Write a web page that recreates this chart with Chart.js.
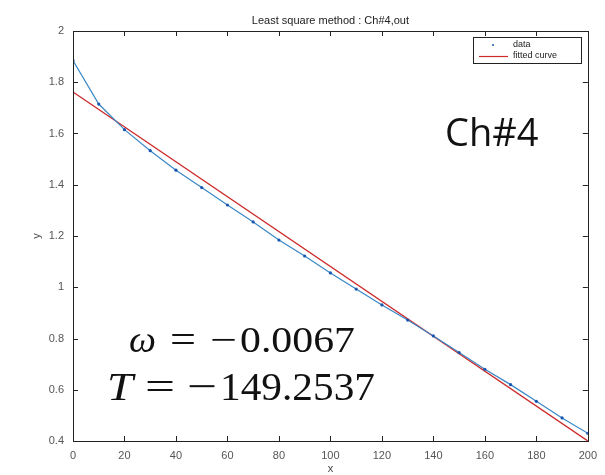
<!DOCTYPE html>
<html>
<head>
<meta charset="utf-8">
<script src="https://cdn.jsdelivr.net/npm/chart.js@4/dist/chart.umd.min.js"></script>
<style>
  html, body { margin: 0; padding: 0; background: #fff; }
  #wrap { width: 605px; height: 475px; position: relative; }
</style>
</head>
<body>
<div id="wrap"><canvas id="c" width="605" height="475"></canvas></div>
<script>
// ---- data ----
const dataX = [0, 10, 20, 30, 40, 50, 60, 70, 80, 90, 100, 110, 120, 130, 140, 150, 160, 170, 180, 190, 200];
const dataY = [1.885, 1.715, 1.615, 1.533, 1.457, 1.389, 1.321, 1.255, 1.184, 1.122, 1.056, 0.993, 0.931, 0.872, 0.81, 0.745, 0.68, 0.62, 0.555, 0.49, 0.43];
const fitX = [0, 200];
const fitY = [1.762, 0.40];
const xTicks = [0, 20, 40, 60, 80, 100, 120, 140, 160, 180, 200];
const yTicks = [0.4, 0.6, 0.8, 1, 1.2, 1.4, 1.6, 1.8, 2];
const titleText = 'Least square method : Ch#4,out';
const legendLabels = ['data', 'fitted curve'];
const chLabel = 'Ch#4';
const omegaParts = ['\u03C9', '=', '\u2212', '0.0067'];
const tParts = ['T', '=', '\u2212', '149.2537'];

const blueLine = '#3a88c6';
const blueMark = '#1a56b0';
const red = '#cc2a2a';

function drawFit(ctx, text, x, y, font, targetW) {
  ctx.font = font;
  const w = ctx.measureText(text).width;
  const s = targetW / w;
  ctx.save();
  ctx.translate(x, y);
  ctx.scale(s, 1);
  ctx.fillText(text, 0, 0);
  ctx.restore();
}

const decorPlugin = {
  id: 'decor',
  afterDraw(chart) {
    const ctx = chart.ctx;
    const a = chart.chartArea;
    const xs = chart.scales.x, ys = chart.scales.y;
    ctx.save();
    // box
    ctx.strokeStyle = '#222';
    ctx.lineWidth = 1;
    ctx.strokeRect(Math.round(a.left) + 0.5, Math.round(a.top) + 0.5, Math.round(a.right - a.left), Math.round(a.bottom - a.top));
    // inward ticks
    const tl = 5;
    ctx.beginPath();
    xTicks.forEach(v => {
      const px = Math.round(xs.getPixelForValue(v)) + 0.5;
      ctx.moveTo(px, a.bottom); ctx.lineTo(px, a.bottom - tl);
      ctx.moveTo(px, a.top); ctx.lineTo(px, a.top + tl);
    });
    yTicks.forEach(v => {
      const py = Math.round(ys.getPixelForValue(v)) + 0.5;
      ctx.moveTo(a.left, py); ctx.lineTo(a.left + tl, py);
      ctx.moveTo(a.right, py); ctx.lineTo(a.right - tl, py);
    });
    ctx.stroke();
    // title
    ctx.fillStyle = '#222';
    ctx.font = '11px "Liberation Sans", Arial, sans-serif';
    ctx.textAlign = 'center';
    ctx.textBaseline = 'middle';
    ctx.fillText(titleText, (a.left + a.right) / 2, 21);
    // axis titles
    ctx.fillStyle = '#444';
    ctx.fillText('x', (a.left + a.right) / 2, 469);
    ctx.save();
    ctx.translate(37, ys.getPixelForValue(1.2));
    ctx.rotate(-Math.PI / 2);
    ctx.fillText('y', 0, 0);
    ctx.restore();
    // legend
    const lx = 473, ly = 37, lw = 108, lh = 26;
    ctx.fillStyle = '#fff';
    ctx.fillRect(lx, ly, lw, lh);
    ctx.strokeStyle = '#222';
    ctx.strokeRect(lx + 0.5, ly + 0.5, lw, lh);
    ctx.fillStyle = blueMark;
    ctx.beginPath(); ctx.arc(lx + 20, ly + 8, 1, 0, Math.PI * 2); ctx.fill();
    ctx.strokeStyle = red; ctx.lineWidth = 1.2;
    ctx.beginPath(); ctx.moveTo(lx + 6, ly + 19.5); ctx.lineTo(lx + 35, ly + 19.5); ctx.stroke();
    ctx.fillStyle = '#222';
    ctx.font = '9px "Liberation Sans", Arial, sans-serif';
    ctx.textAlign = 'left';
    ctx.fillText(legendLabels[0], lx + 40, ly + 8);
    ctx.fillText(legendLabels[1], lx + 40, ly + 19);
    // big annotations
    ctx.fillStyle = '#111';
    ctx.textBaseline = 'alphabetic';
    ctx.font = '38px "Open Sans", "Noto Sans", sans-serif';
    ctx.fillText(chLabel, 445, 146);
    const it = s => 'italic ' + s + 'px "Liberation Serif", "DejaVu Serif", serif';
    const rm = s => s + 'px "Liberation Serif", "DejaVu Serif", serif';
    // omega line (baseline 352)
    drawFit(ctx, omegaParts[0], 129, 352, it(37), 27);
    drawFit(ctx, omegaParts[1], 170, 352, rm(37), 26);
    drawFit(ctx, omegaParts[2], 210, 352, rm(37), 27);
    drawFit(ctx, omegaParts[3], 240, 352, rm(36), 115);
    // T line (baseline 400)
    drawFit(ctx, tParts[0], 107, 400, it(41), 26);
    drawFit(ctx, tParts[1], 145, 400, rm(41), 30);
    drawFit(ctx, tParts[2], 187, 400, rm(41), 30);
    drawFit(ctx, tParts[3], 220, 400, rm(41), 155);
    ctx.restore();
  }
};

new Chart(document.getElementById('c'), {
  type: 'scatter',
  data: {
    datasets: [
      {
        label: legendLabels[0],
        data: dataX.map((x, i) => ({ x: x, y: dataY[i] })),
        showLine: true,
        borderColor: blueLine,
        borderWidth: 1.2,
        backgroundColor: blueMark,
        pointBackgroundColor: blueMark,
        pointBorderColor: blueMark,
        pointBorderWidth: 0,
        pointRadius: 1.6,
        pointStyle: 'circle',
        tension: 0,
        order: 1
      },
      {
        label: legendLabels[1],
        data: fitX.map((x, i) => ({ x: x, y: fitY[i] })),
        showLine: true,
        borderColor: red,
        borderWidth: 1.3,
        pointRadius: 0,
        tension: 0,
        order: 2
      }
    ]
  },
  options: {
    responsive: false,
    animation: false,
    devicePixelRatio: 1,
    layout: { padding: { top: 31, right: 12, left: 0, bottom: 0 } },
    plugins: { legend: { display: false }, title: { display: false }, tooltip: { enabled: false } },
    scales: {
      x: {
        type: 'linear', min: 0, max: 200,
        afterFit: s => { s.height = 34; },
        afterBuildTicks: s => { s.ticks = xTicks.map(v => ({ value: v })); },
        grid: { display: false, drawTicks: false },
        border: { display: false },
        ticks: { color: '#555', padding: 8, font: { family: '"Liberation Sans", Arial, sans-serif', size: 11 }, maxRotation: 0 }
      },
      y: {
        type: 'linear', min: 0.4, max: 2,
        afterFit: s => { s.width = 73; },
        afterBuildTicks: s => { s.ticks = yTicks.map(v => ({ value: v })); },
        grid: { display: false, drawTicks: false },
        border: { display: false },
        ticks: { color: '#555', padding: 9, font: { family: '"Liberation Sans", Arial, sans-serif', size: 11 },
                 callback: v => String(+(+v).toFixed(1)) }
      }
    }
  },
  plugins: [decorPlugin]
});
</script>
</body>
</html>
